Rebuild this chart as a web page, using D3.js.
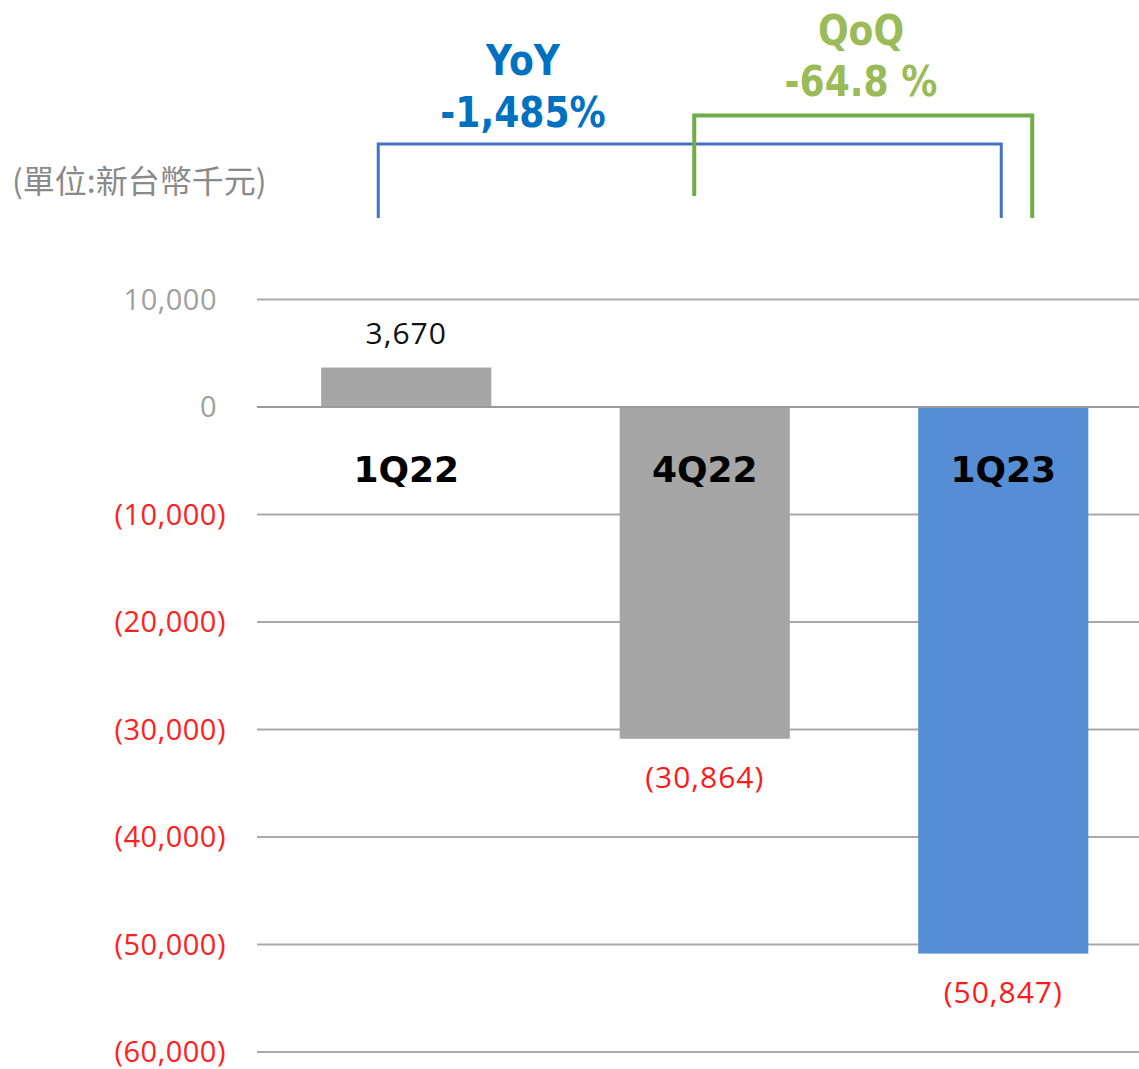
<!DOCTYPE html>
<html>
<head>
<meta charset="utf-8">
<script src="https://cdn.jsdelivr.net/npm/d3@7"></script>
<style>
  html, body { margin: 0; padding: 0; background: #ffffff; }
  svg { display: block; }
</style>
</head>
<body>
<svg id="chart" width="1139" height="1069"></svg>
<script>
// Quarterly net result (NT$ thousands)
const quarters = ["1Q22", "4Q22", "1Q23"];
const values = [3670, -30864, -50847];
const barColors = ["#a6a6a6", "#a6a6a6", "#558ed5"];
const tickValues = [10000, 0, -10000, -20000, -30000, -40000, -50000, -60000];
const unitLabel = "(單位:新台幣千元)";
const yoyTitle = "YoY";
const yoyValue = "-1,485%";
const qoqTitle = "QoQ";
const qoqValue = "-64.8 %";

const svg = d3.select("#chart");

const y = d3.scaleLinear().domain([-60000, 10000]).range([1052, 299.5]);
const x = d3.scaleBand()
  .domain(quarters)
  .range([257, 257 + 3 * 298.5])
  .paddingInner(0.43)
  .paddingOuter(0.215);

const fmt = d3.format(",");
const acct = v => v < 0 ? "(" + fmt(-v) + ")" : fmt(v);

// gridlines
svg.append("g")
  .selectAll("line")
  .data(tickValues)
  .join("line")
  .attr("x1", 257).attr("x2", 1139)
  .attr("y1", d => y(d)).attr("y2", d => y(d))
  .attr("stroke", d => d === 0 ? "#9a9a9a" : "#a9a9a9")
  .attr("stroke-width", 2.2);

// y axis labels
const yAxis = d3.axisLeft(y).tickValues(tickValues).tickFormat(acct).tickSize(0).tickPadding(0);
const ag = svg.append("g").attr("transform", "translate(226,0)").call(yAxis);
ag.select(".domain").remove();
ag.selectAll("text")
  .attr("font-family", "'Open Sans', sans-serif")
  .attr("font-size", 29)
  .attr("letter-spacing", "0.5px")
  .attr("dy", "0.33em")
  .attr("fill", d => d < 0 ? "#ff2020" : "#a0a0a0")
  .attr("dx", d => d < 0 ? 0 : -9);

// bars
svg.append("g")
  .selectAll("rect")
  .data(quarters)
  .join("rect")
  .attr("x", d => x(d))
  .attr("width", x.bandwidth())
  .attr("y", (d, i) => y(Math.max(0, values[i])))
  .attr("height", (d, i) => Math.abs(y(values[i]) - y(0)))
  .attr("fill", (d, i) => barColors[i]);

// zero baseline drawn over bars
svg.append("line")
  .attr("x1", 257).attr("x2", 1139)
  .attr("y1", y(0)).attr("y2", y(0))
  .attr("stroke", "#9a9a9a").attr("stroke-width", 2.2);

// value labels
svg.append("g")
  .selectAll("text")
  .data(quarters)
  .join("text")
  .attr("x", d => x(d) + x.bandwidth() / 2)
  .attr("y", (d, i) => values[i] >= 0 ? y(values[i]) - 24 : y(values[i]) + 49)
  .attr("text-anchor", "middle")
  .attr("font-family", "'Open Sans', sans-serif")
  .attr("font-size", 30)
  .attr("letter-spacing", "1px")
  .attr("fill", (d, i) => values[i] < 0 ? "#ff1a1a" : "#111111")
  .text((d, i) => acct(values[i]));

// category labels just below the baseline
svg.append("g")
  .selectAll("text")
  .data(quarters)
  .join("text")
  .attr("x", d => x(d) + x.bandwidth() / 2)
  .attr("y", y(0) + 75)
  .attr("text-anchor", "middle")
  .attr("font-family", "'DejaVu Sans', sans-serif")
  .attr("font-weight", "bold")
  .attr("font-size", 36)
  .attr("fill", "#000000")
  .text(d => d);

// unit note
svg.append("text")
  .attr("x", 12).attr("y", 193)
  .attr("font-family", "'Noto Sans CJK TC', sans-serif")
  .attr("font-size", 32)
  .attr("fill", "#8a8a8a")
  .text(unitLabel);

// comparison brackets
const cx = d => x(d) + x.bandwidth() / 2;
svg.append("path")
  .attr("d", `M${cx("1Q22") - 28},218 V144 H${cx("1Q23") - 2} V218`)
  .attr("fill", "none")
  .attr("stroke", "#4472c4")
  .attr("stroke-width", 3);
svg.append("path")
  .attr("d", `M${cx("4Q22") - 10.5},196 V115.5 H${cx("1Q23") + 29} V218`)
  .attr("fill", "none")
  .attr("stroke", "#70ad47")
  .attr("stroke-width", 4);

// comparison captions (bold, horizontally squeezed)
const cap = (txt, xPos, yPos, color) => svg.append("text")
  .attr("transform", `translate(${xPos},${yPos}) scale(0.86,1)`)
  .attr("text-anchor", "middle")
  .attr("font-family", "'DejaVu Sans', sans-serif")
  .attr("font-weight", "bold")
  .attr("font-size", 42)
  .attr("fill", color)
  .text(txt);
cap(yoyTitle, 523, 75, "#0070c0");
cap(yoyValue, 523, 127, "#0070c0");
cap(qoqTitle, 861, 45, "#9bbb59");
cap(qoqValue, 861, 96, "#9bbb59");
</script>
</body>
</html>
